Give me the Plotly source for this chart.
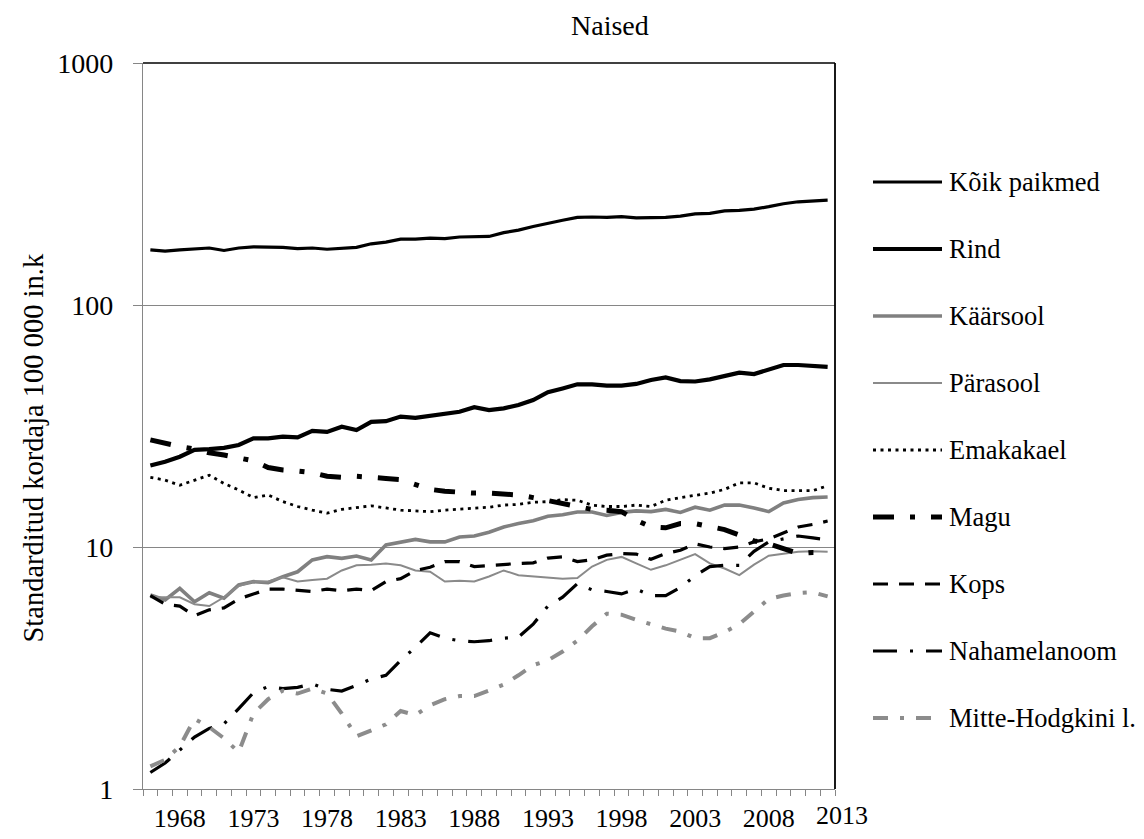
import plotly.graph_objects as go

years = list(range(1966, 2013))

koik = [169,167,169,170,172,168,172,174,174,173,
        171,172,170,171,173,179,182,187,187,189,
        188,191,192,192,199,204,211,218,224,230,
        231,230,232,229,229,230,233,238,239,245,
        246,249,255,262,267,270,271]
rind = [21.7,22.5,23.6,25.2,25.4,25.7,26.4,28.1,28.1,28.6,
        28.4,30.2,29.9,31.4,30.4,32.9,33.1,34.6,34.2,34.9,
        35.7,36.2,37.8,36.8,37.4,38.6,40.5,43.6,45.2,47.0,
        47.0,46.4,46.4,47.2,49.0,50.2,48.5,48.3,49.3,51.0,
        52.5,51.8,53.9,56.5,56.5,56.0,55.5]
kaarsool = [6.33,6.04,6.75,5.94,6.47,6.14,6.97,7.19,7.12,7.54,
            7.9,8.84,9.12,8.98,9.18,8.84,10.2,10.5,10.75,10.5,
            10.5,11.0,11.1,11.5,12.1,12.5,12.85,13.4,13.6,13.95,
            13.95,13.5,13.9,14.1,14.0,14.3,13.9,14.6,14.2,14.9,
            14.9,14.5,14.0,15.2,15.7,16.0,16.1]
parasool = [6.2,6.2,6.2,5.8,5.7,6.2,6.9,7.2,7.2,7.5,
            7.2,7.3,7.4,8.0,8.4,8.45,8.55,8.4,8.0,7.9,
            7.2,7.25,7.2,7.55,8.0,7.65,7.55,7.45,7.4,7.45,
            8.3,8.85,9.1,8.55,8.05,8.4,8.85,9.35,8.55,8.15,
            7.65,8.45,9.2,9.4,9.55,9.6,9.55]
emakakael = [19.4,18.9,18.0,18.9,19.8,18.3,17.2,16.0,16.4,15.4,
             14.7,14.2,13.8,14.3,14.5,14.8,14.5,14.2,14.1,14.0,
             14.2,14.3,14.5,14.6,14.9,15.0,15.3,15.4,15.7,15.6,
             14.9,14.7,14.7,14.9,14.7,15.6,16.0,16.4,16.7,17.3,
             18.4,18.4,17.5,17.1,17.1,17.1,17.9]
magu = [27.7,26.8,26.0,25.4,24.5,24.0,23.2,22.7,21.3,20.8,
        20.6,20.3,19.6,19.4,19.6,19.5,19.2,19.0,18.2,17.3,
        17.0,16.8,16.7,16.7,16.6,16.4,16.0,15.6,15.2,14.7,
        14.3,14.2,14.0,12.9,12.1,12.0,12.5,12.5,12.2,11.8,
        11.2,10.6,10.3,9.9,9.4,9.5,9.5]
kops = [6.3,5.8,5.7,5.2,5.5,5.6,6.1,6.4,6.7,6.7,
        6.6,6.55,6.7,6.6,6.7,6.6,7.2,7.4,8.0,8.25,
        8.7,8.7,8.3,8.4,8.5,8.55,8.6,9.0,9.1,8.7,
        8.85,9.25,9.4,9.35,8.9,9.4,9.7,10.3,10.0,9.85,
        10.0,10.5,10.8,11.4,12.1,12.4,12.8]
melanoom = [1.17,1.28,1.45,1.64,1.78,1.86,2.15,2.5,2.65,2.6,
            2.63,2.72,2.58,2.54,2.68,2.85,2.95,3.4,3.85,4.42,
            4.2,4.1,4.06,4.1,4.2,4.24,4.8,5.7,6.2,7.05,
            6.65,6.55,6.4,6.7,6.3,6.3,6.8,7.6,8.3,8.4,
            8.4,9.6,10.5,10.8,11.1,10.9,10.7]
nhl = [1.24,1.32,1.5,1.95,1.8,1.62,1.42,2.05,2.35,2.55,
       2.48,2.6,2.48,2.05,1.65,1.75,1.85,2.1,2.02,2.22,
       2.35,2.42,2.42,2.55,2.7,2.95,3.25,3.4,3.7,4.1,
       4.7,5.3,5.25,5.0,4.8,4.6,4.47,4.2,4.2,4.45,
       4.8,5.4,6.1,6.3,6.45,6.5,6.25]

series_names = ["Kõik paikmed", "Rind", "Käärsool", "Pärasool", "Emakakael",
                "Magu", "Kops", "Nahamelanoom", "Mitte-Hodgkini l."]
series_values = [koik, rind, kaarsool, parasool, emakakael, magu, kops, melanoom, nhl]

x_tick_years = [1968, 1973, 1978, 1983, 1988, 1993, 1998, 2003, 2008, 2013]
y_tick_vals = [1, 10, 100, 1000]
y_tick_text = ["1", "10", "100", "1000"]

title_text = "Naised"
y_title_text = "Standarditud kordaja 100 000 in.k"

FONT = "Liberation Serif, Times New Roman, serif"
AX = "#868686"

styles = [
    dict(color="black", width=3.2, dash="solid"),
    dict(color="black", width=4.2, dash="solid"),
    dict(color="#808080", width=3.6, dash="solid"),
    dict(color="#8a8a8a", width=2.0, dash="solid"),
    dict(color="black", width=2.8, dash="3px,4.5px"),
    dict(color="black", width=5.0, dash="21px,16px,5px,16px"),
    dict(color="black", width=3.2, dash="15px,11px"),
    dict(color="black", width=3.2, dash="24px,13px,3px,13px"),
    dict(color="#8c8c8c", width=4.0, dash="15px,12px,4px,12px"),
]

# the page body adds an 8px offset; work in window pixels and subtract it
OFF = 8
W, H = 1144 - OFF, 839 - OFF
PL, PR, PT, PB = 143, 835, 63, 789          # plot area in window pixels
ML, MT = PL - OFF, PT - OFF
MR = 4
MB = H - (PB - OFF)
plot_w = W - ML - MR
plot_h = H - MT - MB
main_frac = (PR - PL) / plot_w
x_range = [1965.5, 2012.5]


def px_x(wx):
    return (wx - PL) / plot_w


def px_y(wy):
    return (PB - wy) / plot_h


fig = go.Figure()
for name, vals, st in zip(series_names, series_values, styles):
    fig.add_trace(go.Scatter(x=years, y=vals, mode="lines", name=name,
                             line=st, showlegend=False, hoverinfo="skip"))

# legend on a pixel-scaled auxiliary axes pair (window pixel units)
leg_dom0 = 0.70
leg_x0 = PL + leg_dom0 * plot_w
leg_rows = [182 + 67 * i for i in range(len(series_names))]
for name, st, ly in zip(series_names, styles, leg_rows):
    fig.add_trace(go.Scatter(x=[873, 942], y=[ly, ly], mode="lines", line=st,
                             xaxis="x2", yaxis="y2", showlegend=False, hoverinfo="skip"))
    fig.add_annotation(x=947, y=ly, xref="x2", yref="y2", text=name, showarrow=False,
                       xanchor="left", yanchor="middle",
                       font=dict(family=FONT, size=26.5, color="black"))

fig.update_layout(
    width=W, height=H,
    margin=dict(l=ML, r=MR, t=MT, b=MB, autoexpand=False),
    paper_bgcolor="white", plot_bgcolor="white",
    showlegend=False,
    font=dict(family=FONT, color="black"),
    xaxis=dict(domain=[0, main_frac], range=x_range,
               tickmode="array", tickvals=[y for y in x_tick_years if y <= 2012],
               ticktext=[str(y) for y in x_tick_years if y <= 2012],
               ticks="", showline=True, linecolor=AX, linewidth=1.3,
               showgrid=False, zeroline=False,
               tickfont=dict(family=FONT, size=26, color="black"),
               ticklabelstandoff=6,
               minor=dict(tickmode="array", tickvals=[1965.5 + k for k in range(48)],
                          ticks="outside", ticklen=6, tickcolor=AX, tickwidth=1.2,
                          showgrid=False)),
    yaxis=dict(type="log", range=[0, 3], tickmode="array", tickvals=y_tick_vals,
               ticktext=y_tick_text, ticks="outside", ticklen=9, tickcolor=AX,
               tickwidth=1.3, showline=True, linecolor=AX, linewidth=1.3,
               showgrid=True, gridcolor=AX, gridwidth=1.2, zeroline=False,
               tickfont=dict(family=FONT, size=28, color="black"),
               ticklabelstandoff=14),
    xaxis2=dict(domain=[leg_dom0, 1], range=[leg_x0, PL + plot_w], visible=False,
                anchor="y2", fixedrange=True),
    yaxis2=dict(domain=[0, 1], range=[PB, PT], visible=False,
                anchor="x2", fixedrange=True),
)

# top and right plot border (black)
fig.add_shape(type="line", xref="x domain", yref="y domain", x0=0, x1=1, y0=1, y1=1,
              line=dict(color="black", width=1.5))
fig.add_shape(type="line", xref="x domain", yref="y domain", x0=1, x1=1, y0=0, y1=1,
              line=dict(color="black", width=1.8))

# last category label lies beyond the data range: place it via paper coordinates
last_year = x_tick_years[-1]
fig.add_annotation(x=(last_year - x_range[0]) / (x_range[1] - x_range[0]) * main_frac,
                   xref="paper", xanchor="center", y=0, yref="paper", yanchor="top",
                   yshift=-10, text=str(last_year), showarrow=False,
                   font=dict(family=FONT, size=26, color="black"))

fig.add_annotation(x=px_x(610), xref="paper", y=px_y(26), yref="paper",
                   text=title_text, showarrow=False, xanchor="center", yanchor="middle",
                   font=dict(family=FONT, size=28, color="black"))

fig.add_annotation(x=px_x(33), xref="paper", y=px_y(645), yref="paper",
                   text=y_title_text, showarrow=False, textangle=-90,
                   xanchor="center", yanchor="bottom",
                   font=dict(family=FONT, size=28.5, color="black"))

fig.write_html("out.html")
